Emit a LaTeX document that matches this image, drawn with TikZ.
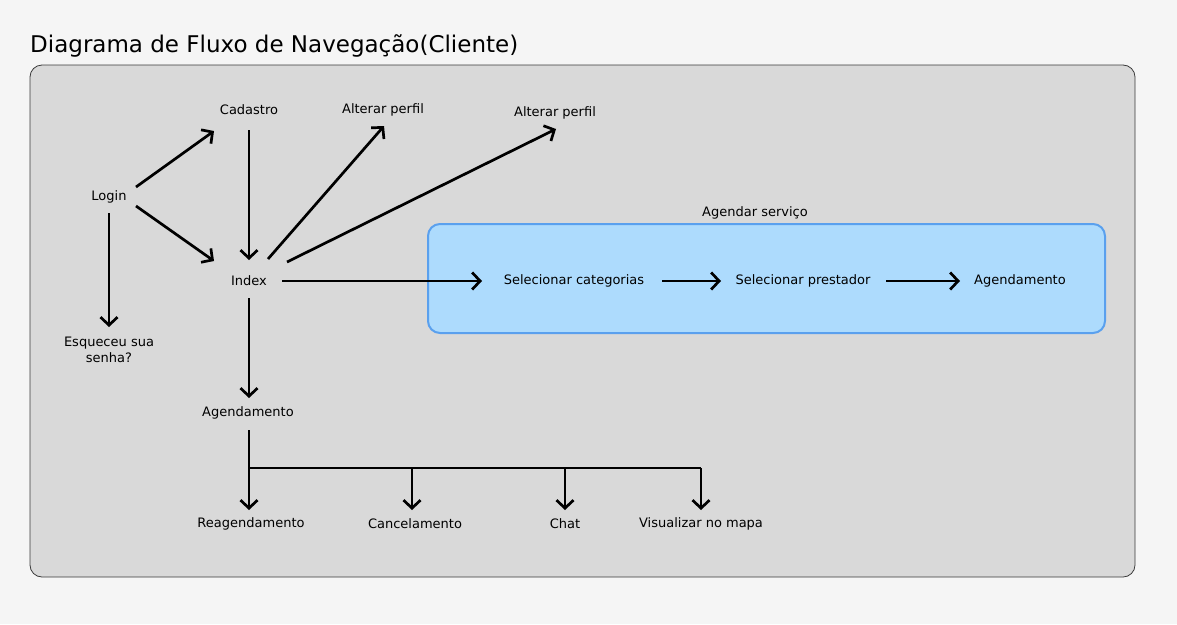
\documentclass[tikz,border=0pt]{standalone}
\usepackage{fontspec}
\setmainfont{DejaVu Sans}
\usepackage{tikz}
\usetikzlibrary{arrows.meta, positioning}
\definecolor{page_bg}{HTML}{F5F5F5}
\definecolor{panel_bg}{HTML}{D9D9D9}
\definecolor{panel_line}{HTML}{3A3A3A}
\definecolor{group_bg}{HTML}{ADDBFD}
\definecolor{group_line}{HTML}{5AA0EE}

\begin{document}
\begin{tikzpicture}[x=1pt, y=-1pt,
                    screen_node/.style={font=\fontsize{13}{16}\selectfont, inner sep=0pt, align=center},
                    title_node/.style={font=\fontsize{23}{27}\selectfont, inner sep=0pt, anchor=base west},
                    flow_arrow/.style={-{Straight Barb[length=8pt, width=17pt]}, line width=2.7pt, black},
                    flow_line/.style={line width=2.7pt, black},
                    panel_box/.style={fill=panel_bg, draw=panel_line, line width=0.8pt, rounded corners=12pt},
                    group_box/.style={fill=group_bg, draw=group_line, line width=2pt, rounded corners=12pt}
                ]
    \fill[page_bg] (0,0) rectangle (1177,624);
    \useasboundingbox (0,0) rectangle (1177,624);

    \node[title_node] (title) at (30,52) {Diagrama de Fluxo de Navegação(Cliente)};
    \draw[panel_box] (30,65) rectangle (1135,577);

    % grupo agendar servico
    \draw[group_box] (428,224) rectangle (1105,333);
    \node[screen_node] (group_label) at (755,213) {Agendar serviço};

    % telas
    \node[screen_node] (login) at (109,197) {Login};
    \node[screen_node] (cadastro) at (249,110) {Cadastro};
    \node[screen_node] (perfil_a) at (383,110) {Alterar perfil};
    \node[screen_node] (perfil_b) at (555,113) {Alterar perfil};
    \node[screen_node] (index) at (249,281) {Index};
    \node[screen_node] (senha) at (109,350) {Esqueceu sua\\senha?};
    \node[screen_node] (agenda) at (248,413) {Agendamento};
    \node[screen_node] (categorias) at (574,281) {Selecionar categorias};
    \node[screen_node] (prestador) at (803,281) {Selecionar prestador};
    \node[screen_node] (agendamento) at (1020,281) {Agendamento};
    \node[screen_node] (reagenda) at (251,524) {Reagendamento};
    \node[screen_node] (cancela) at (415,524) {Cancelamento};
    \node[screen_node] (chat) at (565,524) {Chat};
    \node[screen_node] (mapa) at (701,524) {Visualizar no mapa};

    % fluxo
    \draw[flow_arrow] ([shift={(27,-10)}]login.center) -- ([shift={(-35,21)}]cadastro.center);
    \draw[flow_arrow] ([shift={(27,9)}]login.center) -- ([shift={(-35,-20)}]index.center);
    \draw[flow_arrow] ([shift={(0,16)}]login.center) -- ([shift={(0,-23)}]senha.center);
    \draw[flow_arrow] ([shift={(0,20)}]cadastro.center) -- ([shift={(0,-21)}]index.center);
    \draw[flow_arrow] ([shift={(19,-22)}]index.center) -- ([shift={(1,16)}]perfil_a.center);
    \draw[flow_arrow] ([shift={(38,-19)}]index.center) -- ([shift={(1,16)}]perfil_b.center);
    \draw[flow_arrow] ([shift={(33,0)}]index.center) -- ([shift={(-92,0)}]categorias.center);
    \draw[flow_arrow] ([shift={(88,0)}]categorias.center) -- ([shift={(-82,0)}]prestador.center);
    \draw[flow_arrow] ([shift={(83,0)}]prestador.center) -- ([shift={(-60,0)}]agendamento.center);
    \draw[flow_arrow] ([shift={(0,17)}]index.center) -- ([shift={(1,-15)}]agenda.center);

    % opcoes do agendamento
    \coordinate (bus_left) at (249,468);
    \coordinate (bus_right) at (701,468);
    \draw[flow_line] ([shift={(1,17)}]agenda.center) -- (bus_left) -- (bus_right);
    \draw[flow_arrow] (bus_left) -- ([shift={(-2,-14)}]reagenda.center);
    \draw[flow_arrow] ([shift={(-3,0)}]cancela.center |- bus_left) -- ([shift={(-3,-14)}]cancela.center);
    \draw[flow_arrow] (chat.center |- bus_left) -- ([shift={(0,-14)}]chat.center);
    \draw[flow_arrow] (bus_right) -- ([shift={(0,-14)}]mapa.center);
\end{tikzpicture}
\end{document}
